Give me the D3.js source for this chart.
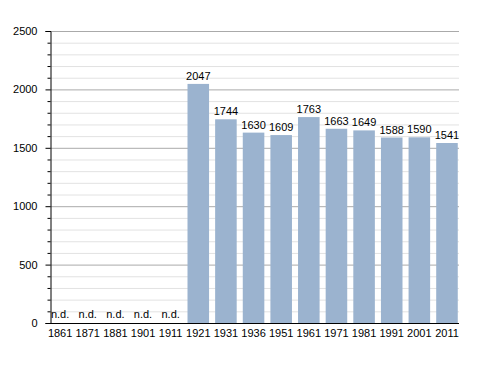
<!DOCTYPE html>
<html>
<head>
<meta charset="utf-8">
<script src="https://cdn.jsdelivr.net/npm/d3@7"></script>
<style>
  body { margin: 0; background: #fff; }
  text { font-family: "Liberation Sans", Arial, sans-serif; font-size: 11px; fill: #000; }
</style>
</head>
<body>
<div class="chart"></div>
<script>
// census years and population (null = no data)
const years = ['1861', '1871', '1881', '1901', '1911', '1921', '1931', '1936', '1951', '1961', '1971', '1981', '1991', '2001', '2011'];
const population = [null, null, null, null, null, 2047, 1744, 1630, 1609, 1763, 1663, 1649, 1588, 1590, 1541];
const majorTicks = [0, 500, 1000, 1500, 2000, 2500];
const minorTicks = d3.range(0, 2501, 100);

const width = 488;
const height = 373;
const margin = { left: 50, right: 29, top: 31, bottom: 50 };
const plotWidth = width - margin.left - margin.right;
const plotHeight = height - margin.top - margin.bottom;

const data = years.map((y, i) => ({ year: y, value: population[i] }));

const svg = d3.select('.chart')
  .append('svg')
  .attr('width', width)
  .attr('height', height);

const x = d3.scaleBand()
  .domain(years)
  .range([margin.left - 3.7, margin.left + plotWidth + 1.8])
  .paddingInner(0.22)
  .paddingOuter(0.11);

const y = d3.scaleLinear()
  .domain([0, 2500])
  .range([margin.top + plotHeight, margin.top]);

// grid lines
const grid = svg.append('g');
grid.selectAll('line.minor')
  .data(minorTicks.filter(d => d % 500 !== 0))
  .join('line')
  .attr('class', 'minor')
  .attr('x1', margin.left)
  .attr('x2', margin.left + plotWidth)
  .attr('y1', d => y(d) + 0.5)
  .attr('y2', d => y(d) + 0.5)
  .attr('stroke', '#e2e2e2');

grid.selectAll('line.major')
  .data(majorTicks.filter(d => d > 0))
  .join('line')
  .attr('class', 'major')
  .attr('x1', margin.left)
  .attr('x2', margin.left + plotWidth)
  .attr('y1', d => y(d) + 0.5)
  .attr('y2', d => y(d) + 0.5)
  .attr('stroke', '#aaaaaa');

// bars
svg.append('g')
  .selectAll('rect')
  .data(data.filter(d => d.value !== null))
  .join('rect')
  .attr('x', d => x(d.year))
  .attr('y', d => y(d.value))
  .attr('width', x.bandwidth())
  .attr('height', d => y(0) - y(d.value))
  .attr('fill', '#9bb3cf');

// value labels
svg.append('g')
  .selectAll('text')
  .data(data)
  .join('text')
  .attr('x', d => x(d.year) + x.bandwidth() / 2)
  .attr('y', d => d.value === null ? y(0) - 5 : y(d.value) - 4)
  .attr('text-anchor', 'middle')
  .text(d => d.value === null ? 'n.d.' : d.value);

// y axis
const yAxisGroup = svg.append('g')
  .attr('transform', `translate(${margin.left + 0.5}, 0)`);

yAxisGroup.call(d3.axisLeft(y).tickValues(majorTicks).tickFormat(d3.format('d')).tickSize(5).tickPadding(8))
  .call(g => g.select('.domain').attr('stroke', '#000'))
  .call(g => g.selectAll('.tick line').attr('stroke', '#000'))
  .call(g => g.selectAll('.tick text').attr('font-size', null).attr('font-family', null));

yAxisGroup.append('g')
  .selectAll('line')
  .data(minorTicks.filter(d => d % 500 !== 0))
  .join('line')
  .attr('x1', -3)
  .attr('x2', 0)
  .attr('y1', d => y(d) + 0.5)
  .attr('y2', d => y(d) + 0.5)
  .attr('stroke', '#000');

// x axis
const xAxisGroup = svg.append('g')
  .attr('transform', `translate(0, ${y(0) + 0.5})`);

xAxisGroup.call(d3.axisBottom(x).tickSize(0).tickPadding(6))
  .call(g => g.select('.domain').remove())
  .call(g => g.selectAll('.tick text').attr('font-size', null).attr('font-family', null));

xAxisGroup.append('line')
  .attr('x1', margin.left)
  .attr('x2', margin.left + plotWidth)
  .attr('stroke', '#000');
</script>
</body>
</html>
